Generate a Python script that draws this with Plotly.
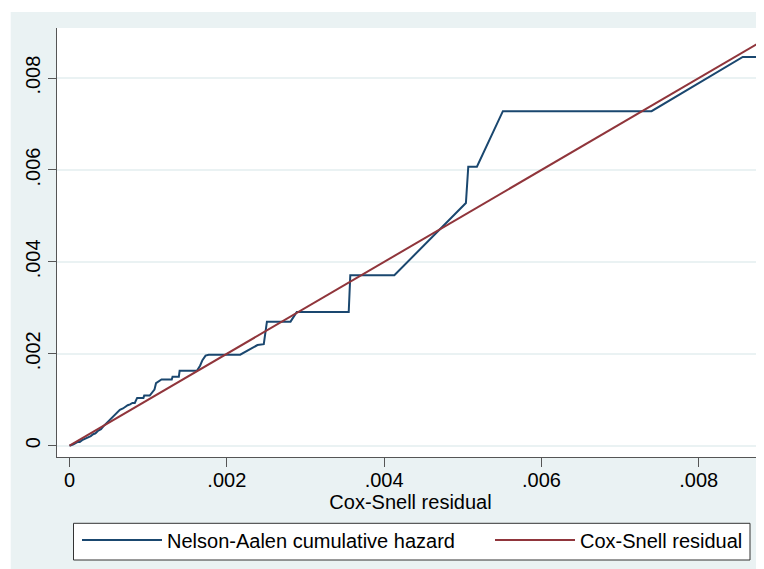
import plotly.graph_objects as go

# Nelson-Aalen cumulative hazard (y) against Cox-Snell residual (x)
na_x = [0.00000, 0.00005, 0.00010, 0.00013, 0.00016, 0.00020, 0.00023, 0.00027, 0.00030,
        0.00033, 0.00036, 0.00040, 0.00043, 0.00046, 0.00049, 0.00052, 0.00056, 0.00059,
        0.00062, 0.00064, 0.00068, 0.00071, 0.00074, 0.00077, 0.00080, 0.00083, 0.00084,
        0.00086, 0.00094, 0.00095, 0.00102, 0.00105, 0.00108, 0.00110, 0.00113, 0.00117,
        0.00130, 0.00131, 0.00139, 0.00140, 0.00162, 0.00166, 0.00169, 0.00173, 0.00177,
        0.00217, 0.00239, 0.00247, 0.00251, 0.00281, 0.00289, 0.00355, 0.00357, 0.00413,
        0.00504, 0.00507, 0.00518, 0.00551, 0.00740, 0.00856, 0.00880]
na_y = [0.00000, 0.00003, 0.00008, 0.00008, 0.00012, 0.00015, 0.00019, 0.00021, 0.00025,
        0.00027, 0.00032, 0.00036, 0.00042, 0.00047, 0.00053, 0.00058, 0.00063, 0.00068,
        0.00073, 0.00078, 0.00081, 0.00085, 0.00088, 0.00090, 0.00093, 0.00093, 0.00098,
        0.00104, 0.00104, 0.00109, 0.00109, 0.00116, 0.00122, 0.00136, 0.00140, 0.00144,
        0.00144, 0.00150, 0.00150, 0.00163, 0.00163, 0.00174, 0.00186, 0.00196, 0.00198,
        0.00198, 0.00219, 0.00221, 0.00270, 0.00270, 0.00291, 0.00291, 0.00371, 0.00371,
        0.00528, 0.00607, 0.00607, 0.00728, 0.00728, 0.00846, 0.00846]

# Cox-Snell residual reference line (45-degree)
cs_x = [0.0, 0.0088]
cs_y = [0.0, 0.0088]

tick_vals = [0, 0.002, 0.004, 0.006, 0.008]
tick_text = ["0", ".002", ".004", ".006", ".008"]

series_names = ["Nelson-Aalen cumulative hazard", "Cox-Snell residual"]
series_colors = ["#1a476f", "#90353b"]

FONT = "Liberation Sans, Arial, sans-serif"
BG = "#eaf2f3"
AX = "#555555"

fig = go.Figure()
fig.add_trace(go.Scatter(x=na_x, y=na_y, mode="lines", name=series_names[0],
                         line=dict(color=series_colors[0], width=2), legend="legend"))
fig.add_trace(go.Scatter(x=cs_x, y=cs_y, mode="lines", name=series_names[1],
                         line=dict(color=series_colors[1], width=2), legend="legend2"))

# page has an 8px body margin; size the figure so it fills the 764x569 window exactly
OFF = 8
W, H = 764 - OFF, 569 - OFF
ml, mr, mt, mb = 57 - OFF, 0, 28 - OFF, 112
pw, ph = W - ml - mr, H - mt - mb

def px_x(page_px):
    return (page_px - OFF - ml) / pw

def px_y(page_py):
    return (H - mb - (page_py - OFF)) / ph

leg_common = dict(
    orientation="h",
    xanchor="left", yanchor="middle",
    bgcolor="rgba(0,0,0,0)", borderwidth=0,
    font=dict(family=FONT, size=20, color="#000000"),
    itemwidth=80,
)

fig.update_layout(
    width=W, height=H,
    margin=dict(l=ml, r=mr, t=mt, b=mb, pad=0),
    paper_bgcolor="white",
    plot_bgcolor="white",
    font=dict(family=FONT, size=20, color="#000000"),
    showlegend=True,
    legend=dict(x=px_x(77), y=px_y(540), **leg_common),
    legend2=dict(x=px_x(490), y=px_y(540), **leg_common),
    shapes=[
        dict(type="rect", xref="paper", yref="paper", layer="below",
             x0=px_x(10.7), x1=px_x(780), y0=px_y(590), y1=px_y(12),
             fillcolor=BG, line=dict(width=0)),
        dict(type="rect", xref="paper", yref="paper", layer="below",
             x0=0, x1=1, y0=0, y1=1, fillcolor="white", line=dict(width=0)),
        dict(type="rect", xref="paper", yref="paper", layer="below",
             x0=px_x(73.5), x1=px_x(750), y0=px_y(560), y1=px_y(523.3),
             fillcolor="white", line=dict(color="#333333", width=1)),
    ],
    xaxis=dict(
        range=[-0.000159, 0.00883],
        tickvals=tick_vals, ticktext=tick_text,
        ticks="outside", ticklen=9, tickcolor=AX, tickwidth=1,
        ticklabelstandoff=-4,
        showline=True, linecolor=AX, linewidth=1,
        showgrid=False, zeroline=False,
        tickfont=dict(family=FONT, size=20, color="#000000"),
        title=dict(text="Cox-Snell residual", standoff=2,
                   font=dict(family=FONT, size=20, color="#000000")),
    ),
    yaxis=dict(
        range=[-0.000246, 0.00909],
        tickvals=tick_vals, ticktext=tick_text,
        tickangle=-90,
        ticks="outside", ticklen=8, tickcolor=AX, tickwidth=1,
        showline=True, linecolor=AX, linewidth=1,
        showgrid=True, gridcolor=BG, gridwidth=1.5,
        zeroline=False,
        tickfont=dict(family=FONT, size=20, color="#000000"),
    ),
)

fig.write_html("out.html")
